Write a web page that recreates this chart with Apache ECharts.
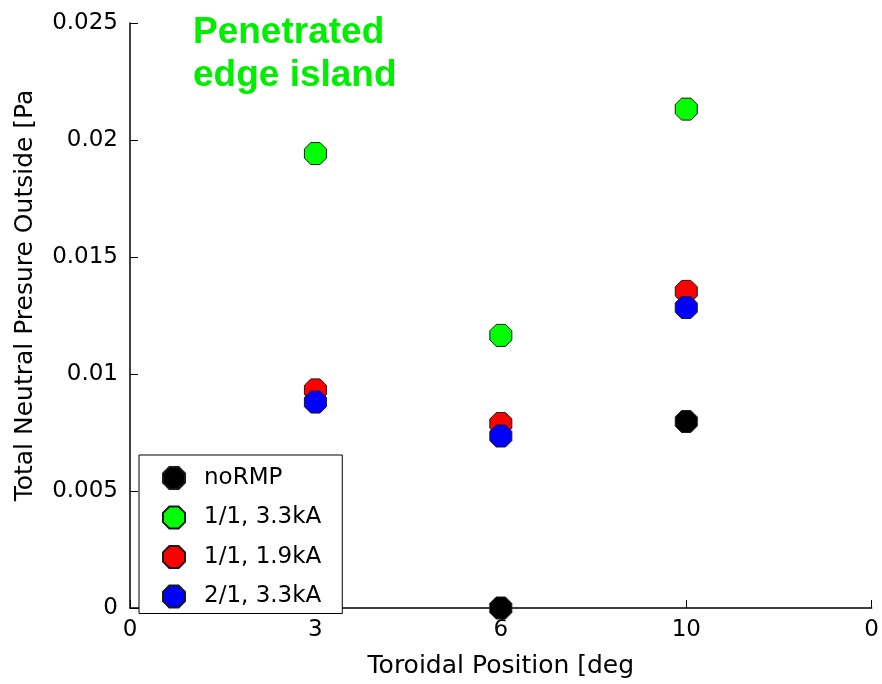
<!DOCTYPE html>
<html>
<head>
<meta charset="utf-8">
<script src="https://cdn.jsdelivr.net/npm/echarts@6/dist/echarts.min.js"></script>
<style>
  html, body { margin: 0; padding: 0; background: #fff; }
  #chart { width: 882px; height: 684px; }
</style>
</head>
<body>
<div id="chart"></div>
<script>
// Toroidal positions (tick labels of the category axis)
const positions = ['0', '3', '6', '10', '0'];

// Total neutral pressure outside [Pa] per case, one value per position
const noRMP   = [null, null,    0.0,     0.00797, null];
const rmp11_33 = [null, 0.01942, 0.01165, 0.02132, null];
const rmp11_19 = [null, 0.00932, 0.00788, 0.01353, null];
const rmp21_33 = [null, 0.00880, 0.00735, 0.01284, null];

const yTicks = [0, 0.005, 0.01, 0.015, 0.02, 0.025];

const seriesNames = ['noRMP', '1/1, 3.3kA', '1/1, 1.9kA', '2/1, 3.3kA'];
const seriesColors = ['#000000', '#00ff00', '#ff0000', '#0000ff'];
const seriesData = [noRMP, rmp11_33, rmp11_19, rmp21_33];

const octagon = 'path://M29,0 L71,0 L100,29 L100,71 L71,100 L29,100 L0,71 L0,29 Z';
const font = '"DejaVu Sans", sans-serif';
const titleFont = '"Liberation Sans", Arial, sans-serif';

const chart = echarts.init(document.getElementById('chart'));
chart.setOption({
  animation: false,
  backgroundColor: '#ffffff',
  title: {
    text: 'Penetrated\nedge island',
    left: 188,
    top: 6,
    textStyle: {
      color: '#00ee00',
      fontFamily: titleFont,
      fontWeight: 'bold',
      fontSize: 37,
      lineHeight: 43
    }
  },
  grid: { left: 130, right: 5, top: 23, bottom: 71 },
  legend: {
    orient: 'vertical',
    left: 139,
    top: 455,
    padding: [11, 21, 5, 23],
    itemWidth: 50,
    itemHeight: 22,
    itemGap: 15.5,
    backgroundColor: '#ffffff',
    borderColor: '#000000',
    borderWidth: 1,
    borderRadius: 0,
    data: seriesNames,
    textStyle: { color: '#000', fontFamily: font, fontSize: 23, lineHeight: 22 }
  },
  xAxis: {
    type: 'category',
    data: positions,
    boundaryGap: false,
    name: 'Toroidal Position [deg',
    nameLocation: 'middle',
    nameGap: 46,
    nameTextStyle: { color: '#000', fontFamily: font, fontSize: 25 },
    axisLine: { onZero: false, lineStyle: { color: '#000', width: 1.5 } },
    axisTick: { inside: true, length: 8, lineStyle: { color: '#000' } },
    axisLabel: { color: '#000', fontFamily: font, fontSize: 23, margin: 11 },
    splitLine: { show: false }
  },
  yAxis: {
    type: 'value',
    min: yTicks[0],
    max: yTicks[yTicks.length - 1],
    interval: 0.005,
    name: 'Total Neutral Presure Outside [Pa',
    nameLocation: 'middle',
    nameGap: 92,
    nameTextStyle: { color: '#000', fontFamily: font, fontSize: 25, padding: [0, 0, 0, 40] },
    axisLine: { show: true, lineStyle: { color: '#000', width: 1.5 } },
    axisTick: { show: true, inside: true, length: 8, lineStyle: { color: '#000' } },
    axisLabel: {
      color: '#000', fontFamily: font, fontSize: 23, margin: 12,
      formatter: v => String(parseFloat(v.toFixed(3)))
    },
    splitLine: { show: false }
  },
  series: seriesNames.map((name, i) => ({
    name: name,
    type: 'scatter',
    data: seriesData[i],
    symbol: octagon,
    symbolSize: 22,
    symbolKeepAspect: true,
    clip: false,
    z: 2 + i,
    itemStyle: {
      color: seriesColors[i],
      borderColor: '#1a1a1a',
      borderWidth: 1,
      opacity: 1
    }
  }))
});
</script>
</body>
</html>
